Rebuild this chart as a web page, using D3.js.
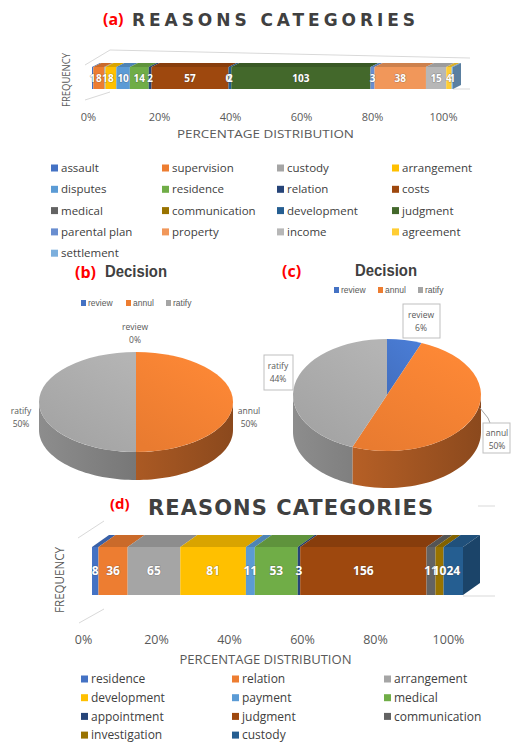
<!DOCTYPE html>
<html><head><meta charset="utf-8">
<script src="https://cdn.jsdelivr.net/npm/d3@7"></script>
<style>
body{margin:0;background:#fff;}
svg{display:block;font-family:"Open Sans","Liberation Sans",sans-serif;}
</style></head>
<body>
<svg id="c" width="511" height="756"></svg>
<script>
// ---------- DATA ----------
const catsA = ["assault","supervision","custody","arrangement","disputes","residence","relation","costs","medical","communication","development","judgment","parental plan","property","income","agreement","settlement"];
const valsA = [1,8,1,8,10,14,2,57,0,0,2,103,3,38,15,4,1];
const colorsA = ["#4472C4","#ED7D31","#A5A5A5","#FFC000","#5B9BD5","#70AD47","#264478","#9E480E","#636363","#997300","#255E91","#43682B","#698ED0","#F1975A","#B7B7B7","#FFCD33","#7CAFDD"];

const catsD = ["residence","relation","arrangement","development","payment","medical","appointment","judgment","communication","investigation","custody"];
const valsD = [8,36,65,81,11,53,3,156,11,10,24];
const colorsD = ["#4472C4","#ED7D31","#A5A5A5","#FFC000","#5B9BD5","#70AD47","#264478","#9E480E","#636363","#997300","#255E91"];

const pieCats = ["review","annul","ratify"];
const pieB = [0,50,50];
const pieC = [6,50,44];
const pieColors = ["#4472C4","#ED7D31","#A5A5A5"];

const pctTicks = [0,0.2,0.4,0.6,0.8,1];

// ---------- SETUP ----------
const svg = d3.select("#c");
const defs = svg.append("defs");
const txt = "#404040", axisTxt = "#595959";

function title(x, y, label, tx, text, fsL, fsT, tLen, ly){
  svg.append("text").attr("x", x).attr("y", ly).attr("fill", "#FF0000")
    .attr("font-weight", "bold").attr("font-size", fsL).text(label);
  svg.append("text").attr("x", tx).attr("y", y).attr("fill", txt)
    .attr("font-family","DejaVu Sans, sans-serif")
    .attr("font-weight", "bold").attr("font-size", fsT)
    .attr("textLength", tLen).attr("lengthAdjust","spacing").text(text);
}

function bar3d(opt){
  const {cats, vals, colors, axisRange, barRange, y0, h, dx, dy, fs, frame, fsAxis, axisY, freqX, freqY, freqLen, freqFs, pdY, pdFs, pdLen} = opt;
  const total = d3.sum(vals);
  const xb = d3.scaleLinear().domain([0,total]).range(barRange);
  const xa = d3.scaleLinear().domain([0,1]).range(axisRange);
  const ends = d3.cumsum(vals);
  const segs = vals.map((v,i)=>({v, c:colors[i], s:ends[i]-v, e:ends[i]}));
  const g = svg.append("g");
  // frame lines (3D walls)
  g.append("g").selectAll("polyline").data(frame).join("polyline")
    .attr("points", d=>d.map(p=>p.join(",")).join(" "))
    .attr("fill","none").attr("stroke","#D9D9D9").attr("stroke-width",1);
  // top faces
  g.selectAll("path.top").data(segs.filter(d=>d.v>0)).join("path").attr("class","top")
    .attr("d", d=>{const a=xb(d.s), b=xb(d.e);
      return `M${a},${y0}L${b},${y0}L${b+dx},${y0+dy}L${a+dx},${y0+dy}Z`;})
    .attr("fill", d=>d3.color(d.c).darker(0.45));
  // front faces
  g.selectAll("rect.front").data(segs.filter(d=>d.v>0)).join("rect").attr("class","front")
    .attr("x", d=>xb(d.s)).attr("width", d=>xb(d.e)-xb(d.s))
    .attr("y", y0).attr("height", h).attr("fill", d=>d.c);
  // right side
  const last = segs.filter(d=>d.v>0).slice(-1)[0];
  const rx = xb(last.e);
  g.append("path").attr("d", `M${rx},${y0}L${rx+dx},${y0+dy}L${rx+dx},${y0+h+dy}L${rx},${y0+h}Z`)
    .attr("fill", d3.color(last.c).darker(0.9));
  // labels
  g.selectAll("text.lab").data(segs).join("text").attr("class","lab")
    .attr("x", d=>(xb(d.s)+xb(d.e))/2).attr("y", y0+h/2)
    .attr("dy","0.35em").attr("text-anchor","middle")
    .attr("font-size", fs).attr("font-weight","bold").attr("fill","#fff")
    .attr("stroke","rgba(60,60,60,0.35)").attr("stroke-width",1.2).attr("paint-order","stroke")
    .text(d=>d.v);
  // axis
  const ax = g.append("g").attr("transform", `translate(0,${axisY})`)
    .call(d3.axisBottom(xa).tickValues(pctTicks).tickFormat(d3.format(".0%")).tickSize(0));
  ax.select(".domain").remove();
  ax.selectAll("text").attr("font-size", fsAxis).attr("fill", axisTxt)
    .attr("font-family","Open Sans, sans-serif");
  // axis titles
  g.append("text").attr("transform", `translate(${freqX},${freqY}) rotate(-90)`)
    .attr("text-anchor","middle").attr("font-size", freqFs).attr("fill", axisTxt)
    .attr("textLength", freqLen).attr("lengthAdjust","spacingAndGlyphs").text("FREQUENCY");
  g.append("text").attr("x", (axisRange[0]+axisRange[1])/2).attr("y", pdY)
    .attr("text-anchor","middle").attr("font-size", pdFs).attr("fill", axisTxt)
    .attr("textLength", pdLen).attr("lengthAdjust","spacingAndGlyphs").text("PERCENTAGE DISTRIBUTION");
}

function legend(cats, colors, xs, y0, dy, fs, ms){
  const n = xs.length;
  const g = svg.append("g");
  const it = g.selectAll("g").data(cats).join("g")
    .attr("transform", (d,i)=>`translate(${xs[i%n]},${y0 + Math.floor(i/n)*dy})`);
  it.append("rect").attr("x",0).attr("y",-ms/2).attr("width",ms).attr("height",ms)
    .attr("fill",(d,i)=>colors[i]);
  it.append("text").attr("x", ms+3).attr("dy","0.35em").attr("font-size",fs).attr("fill",txt).text(d=>d);
}

// ---------- (a) ----------
title(103, 26, "(a)", 132, "REASONS CATEGORIES", 16, 17, 283, 25);
bar3d({cats:catsA, vals:valsA, colors:colorsA, axisRange:[88,443], barRange:[92,453],
  y0:67, h:22, dx:8, dy:-4, fs:10,
  frame:[[[85,100],[110,92]],[[85,65],[110,50],[470,58]],[[453,89],[470,89]]],
  fsAxis:11, axisY:110, freqX:70, freqY:80, freqLen:54, freqFs:11, pdY:138, pdFs:11, pdLen:177});
legend(catsA, colorsA, [51,162,277,392], 168, 21.3, 11.5, 7);

// ---------- (d) ----------
title(110, 515, "(d)", 148, "REASONS CATEGORIES", 15, 21, 285, 509);
bar3d({cats:catsD, vals:valsD, colors:colorsD, axisRange:[83,448], barRange:[92,463],
  y0:547, h:48, dx:17, dy:-12, fs:12,
  frame:[[[79,623],[104,609]],[[78,538],[104,521]],[[463,596],[495,596]],[[478,506],[495,506]]],
  fsAxis:12.5, axisY:632, freqX:64, freqY:580, freqLen:66, freqFs:13, pdY:664, pdFs:12, pdLen:172});
legend(catsD, colorsD, [81,232,384], 679, 18.7, 12, 7);

// ---------- pies ----------
function pie3d(id, data, cx, cy, rx, ry, depth){
  const arcs = d3.pie().sort(null)(data);
  const g = svg.append("g");
  const pt = (a, dd=0)=>[cx + rx*Math.sin(a), cy - ry*Math.cos(a) + dd];
  // side walls (front half: angles PI/2..3PI/2)
  arcs.forEach((a,i)=>{
    const a0 = Math.max(a.startAngle, Math.PI/2), a1 = Math.min(a.endAngle, 3*Math.PI/2);
    if (a1 <= a0) return;
    const gid = `${id}side${i}`;
    const c = d3.color(pieColors[i]);
    const gr = defs.append("linearGradient").attr("id", gid).attr("gradientUnits","userSpaceOnUse")
      .attr("x1", cx-rx).attr("x2", cx+rx).attr("y1",0).attr("y2",0);
    gr.append("stop").attr("offset","0%").attr("stop-color", c.darker(0.45));
    gr.append("stop").attr("offset","100%").attr("stop-color", c.darker(1.5));
    const angs = d3.range(0, 41).map(k=>a0 + (a1-a0)*k/40);
    const top = angs.map(t=>pt(t)), bot = angs.slice().reverse().map(t=>pt(t, depth));
    g.append("path").attr("d", "M" + top.concat(bot).map(p=>p.join(",")).join("L") + "Z")
      .attr("fill", `url(#${gid})`);
  });
  // top
  const tg = g.append("g").attr("transform", `translate(${cx},${cy}) scale(1,${ry/rx})`);
  arcs.forEach((a,i)=>{
    const gid = `${id}top${i}`;
    const c = d3.color(pieColors[i]);
    const gr = defs.append("linearGradient").attr("id", gid).attr("x1","80%").attr("y1","0%").attr("x2","20%").attr("y2","100%");
    gr.append("stop").attr("offset","0%").attr("stop-color", c.brighter(0.25));
    gr.append("stop").attr("offset","100%").attr("stop-color", c.darker(0.05));
    tg.append("path").attr("d", d3.arc().innerRadius(0).outerRadius(rx)(a)).attr("fill", `url(#${gid})`);
  });
  return arcs;
}

function pieTitle(lx, label, dx, ly){
  svg.append("text").attr("x", lx).attr("y", ly).attr("fill","#FF0000").attr("font-weight","bold")
    .attr("font-size",16).text(label);
  svg.append("text").attr("x", dx).attr("y", ly-1).attr("fill",txt).attr("font-weight","bold")
    .attr("font-family","Liberation Sans, sans-serif")
    .attr("font-size",17).attr("textLength",62).attr("lengthAdjust","spacingAndGlyphs").text("Decision");
}
function pieLegend(xs, y){
  const g = svg.append("g");
  const it = g.selectAll("g").data(pieCats).join("g").attr("transform",(d,i)=>`translate(${xs[i]},${y})`);
  it.append("rect").attr("x",0).attr("y",-3).attr("width",5).attr("height",6).attr("fill",(d,i)=>pieColors[i]);
  it.append("text").attr("x",7).attr("dy","0.35em").attr("font-size",8.5).attr("fill",axisTxt)
    .attr("font-family","Liberation Sans Narrow, Liberation Sans, sans-serif").text(d=>d);
}
function pieLabel(x, y, cat, val, box){
  const g = svg.append("g");
  if (box) g.append("rect").attr("x",box[0]).attr("y",box[1]).attr("width",box[2]).attr("height",box[3])
    .attr("fill","#fff").attr("stroke","#BFBFBF");
  g.append("text").attr("x",x).attr("y",y).attr("text-anchor","middle").attr("font-size",8.5)
    .attr("fill",axisTxt).text(cat);
  g.append("text").attr("x",x).attr("y",y+13).attr("text-anchor","middle").attr("font-size",8.5)
    .attr("fill",axisTxt).text(val+"%");
}

// (b)
pieTitle(75, "(b)", 105, 278);
pieLegend([81,126,166], 303);
pie3d("b", pieB, 136, 402, 97, 50, 28);
pieLabel(135, 330, pieCats[0], pieB[0]);
pieLabel(21, 414, pieCats[2], pieB[2]);
pieLabel(249, 414, pieCats[1], pieB[1]);

// (c)
pieTitle(282, "(c)", 355, 277);
pieLegend([334,378,418], 290);
pie3d("c", pieC, 387, 395, 94, 56, 37);
svg.append("polyline").attr("points","480,408 488,418 490,423").attr("fill","none").attr("stroke","#A6A6A6");
pieLabel(421, 318, pieCats[0], pieC[0], [403,304,37,34]);
pieLabel(278, 369, pieCats[2], pieC[2], [264,355,29,35]);
pieLabel(497, 436, pieCats[1], pieC[1], [483,423,27,30]);
</script>
</body></html>
